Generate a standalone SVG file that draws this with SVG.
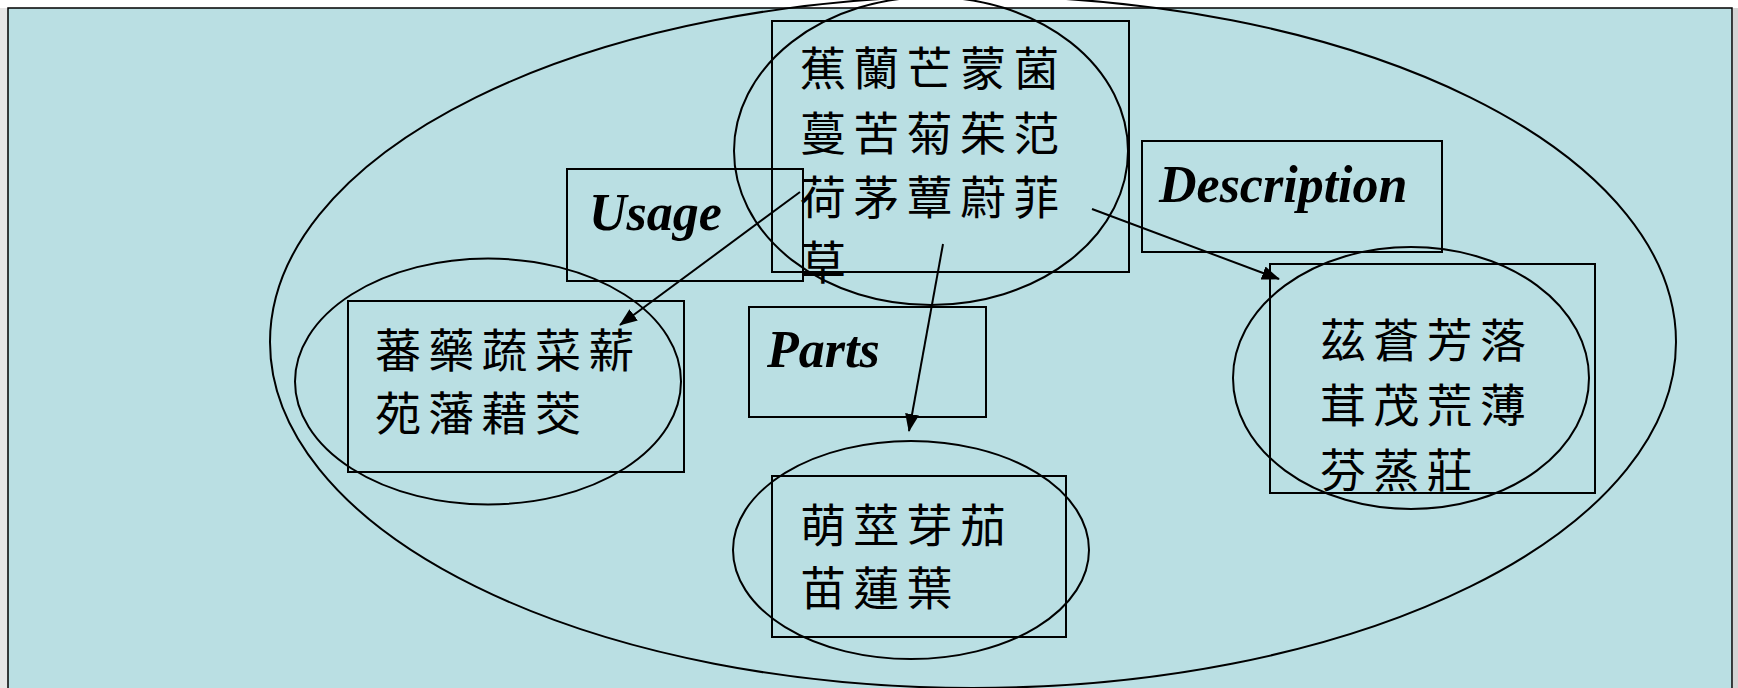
<svg xmlns="http://www.w3.org/2000/svg" width="1738" height="688" viewBox="0 0 1738 688">
  <defs>
    <style>
      .line { fill: none; stroke: #000; stroke-width: 2; }
      .conn { fill: none; stroke: #000; stroke-width: 2; marker-end: url(#arrow); }
      .cjk { font-family: "Noto Sans CJK TC", "Noto Sans CJK SC", sans-serif; font-size: 46px; letter-spacing: 7.3px; fill: #000; }
      .label { font-family: "Liberation Serif", "Times New Roman", serif; font-size: 52px; font-weight: bold; font-style: italic; fill: #000; }
    </style>
    <marker id="arrow" viewBox="0 0 18 14" refX="17" refY="7" markerWidth="18" markerHeight="14" markerUnits="userSpaceOnUse" orient="auto">
      <path d="M0,0 L18,7 L0,14 Z" fill="#000"/>
    </marker>
  </defs>

  <!-- page surround -->
  <rect x="0" y="0" width="1738" height="688" fill="#ffffff"/>
  <rect x="0" y="8" width="8" height="680" fill="#e6e6e6"/>
  <rect x="1733" y="8" width="5" height="680" fill="#d4d4d4"/>

  <!-- slide panel -->
  <rect id="panel" x="8" y="8" width="1724" height="690" fill="#badfe3" stroke="#000" stroke-width="1.5"/>

  <!-- outer domain ellipse -->
  <g id="domain">
    <ellipse class="line" cx="973" cy="342" rx="703" ry="346"/>
  </g>

  <!-- central node -->
  <g id="node-center">
    <ellipse class="line" cx="931" cy="151" rx="197" ry="154"/>
    <rect class="line" x="772" y="21" width="357" height="251"/>
    <text class="cjk" x="800" y="85">蕉蘭芒蒙菌</text>
    <text class="cjk" x="800" y="150">蔓苦菊茱范</text>
    <text class="cjk" x="800" y="214">荷茅蕈蔚菲</text>
    <text class="cjk" x="800" y="279">草</text>
  </g>

  <!-- relation labels -->
  <g id="label-usage">
    <rect class="line" x="567" y="169" width="236" height="112"/>
    <text class="label" x="589" y="230">Usage</text>
  </g>
  <g id="label-parts">
    <rect class="line" x="749" y="307" width="237" height="110"/>
    <text class="label" x="767" y="367">Parts</text>
  </g>
  <g id="label-description">
    <rect class="line" x="1142" y="141" width="300" height="111"/>
    <text class="label" x="1159" y="202">Description</text>
  </g>

  <!-- usage node -->
  <g id="node-usage">
    <ellipse class="line" cx="488" cy="381.5" rx="193" ry="123"/>
    <rect class="line" x="348" y="301" width="336" height="171"/>
    <text class="cjk" x="375" y="367">蕃藥蔬菜薪</text>
    <text class="cjk" x="375" y="430">苑藩藉茭</text>
  </g>

  <!-- parts node -->
  <g id="node-parts">
    <ellipse class="line" cx="911" cy="550" rx="178" ry="109"/>
    <rect class="line" x="772" y="476" width="294" height="161"/>
    <text class="cjk" x="800" y="542">萌莖芽茄</text>
    <text class="cjk" x="800" y="605">苗蓮葉</text>
  </g>

  <!-- description node -->
  <g id="node-description">
    <ellipse class="line" cx="1411" cy="378" rx="178" ry="131"/>
    <rect class="line" x="1270" y="264" width="325" height="229"/>
    <text class="cjk" x="1320" y="357">茲蒼芳落</text>
    <text class="cjk" x="1320" y="422">茸茂荒薄</text>
    <text class="cjk" x="1320" y="487">芬蒸莊</text>
  </g>

  <!-- connectors -->
  <g id="connectors">
    <line class="conn" x1="800" y1="192" x2="620" y2="325"/>
    <line class="conn" x1="943" y1="244" x2="909" y2="431"/>
    <line class="conn" x1="1092" y1="209" x2="1279" y2="279"/>
  </g>
</svg>
